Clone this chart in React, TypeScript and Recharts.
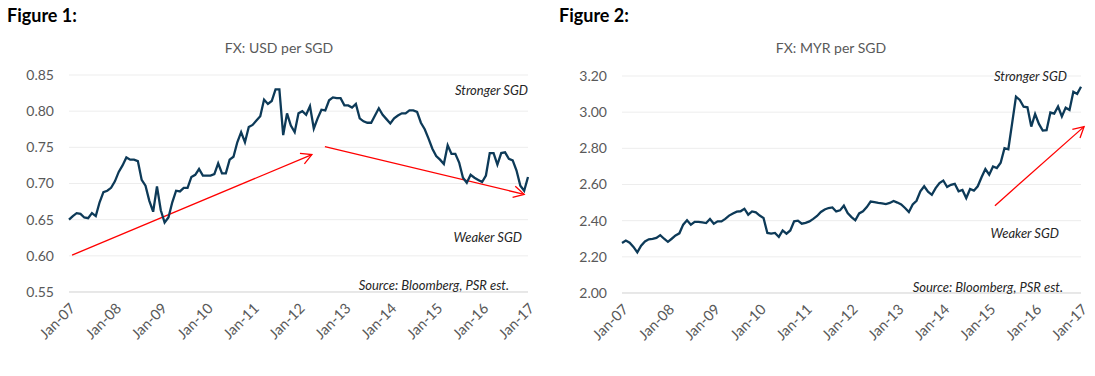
import { CartesianGrid, Line, LineChart, ReferenceLine, XAxis, YAxis } from "recharts"

// monthly, Jan-07 .. Jan-17 (121 points)
const usdPerSgd = [
  0.650, 0.655, 0.659, 0.658, 0.653, 0.652, 0.659, 0.655, 0.674, 0.688, 0.690, 0.694,
  0.703, 0.716, 0.725, 0.736, 0.733, 0.733, 0.731, 0.705, 0.697, 0.676, 0.661, 0.696,
  0.663, 0.646, 0.653, 0.674, 0.690, 0.689, 0.694, 0.694, 0.709, 0.712, 0.720, 0.711,
  0.711, 0.711, 0.713, 0.728, 0.714, 0.714, 0.733, 0.737, 0.757, 0.771, 0.757, 0.778,
  0.781, 0.787, 0.793, 0.816, 0.810, 0.814, 0.830, 0.830, 0.767, 0.797, 0.780, 0.771,
  0.797, 0.800, 0.795, 0.807, 0.776, 0.790, 0.802, 0.801, 0.815, 0.819, 0.818, 0.818,
  0.808, 0.808, 0.805, 0.810, 0.790, 0.786, 0.784, 0.784, 0.794, 0.804, 0.795, 0.789,
  0.783, 0.790, 0.794, 0.797, 0.797, 0.801, 0.801, 0.799, 0.784, 0.775, 0.762, 0.748,
  0.738, 0.733, 0.727, 0.753, 0.741, 0.741, 0.729, 0.708, 0.701, 0.712, 0.708, 0.705,
  0.702, 0.711, 0.742, 0.742, 0.726, 0.742, 0.743, 0.734, 0.732, 0.718, 0.697, 0.690,
  0.709,
]

const myrPerSgd = [
  2.277, 2.290, 2.278, 2.255, 2.225, 2.262, 2.285, 2.297, 2.299, 2.305, 2.320, 2.300,
  2.283, 2.300, 2.318, 2.330, 2.378, 2.402, 2.378, 2.393, 2.393, 2.390, 2.387, 2.409,
  2.383, 2.396, 2.396, 2.410, 2.428, 2.440, 2.450, 2.452, 2.466, 2.433, 2.451, 2.446,
  2.428, 2.415, 2.332, 2.328, 2.332, 2.310, 2.346, 2.328, 2.346, 2.396, 2.400, 2.383,
  2.388, 2.396, 2.410, 2.426, 2.448, 2.462, 2.470, 2.473, 2.451, 2.457, 2.483, 2.442,
  2.420, 2.402, 2.440, 2.452, 2.475, 2.506, 2.502, 2.498, 2.496, 2.492, 2.498, 2.509,
  2.500, 2.490, 2.470, 2.448, 2.490, 2.510, 2.562, 2.590, 2.560, 2.543, 2.580, 2.608,
  2.622, 2.586, 2.598, 2.604, 2.562, 2.570, 2.525, 2.575, 2.566, 2.590, 2.640, 2.685,
  2.654, 2.700, 2.691, 2.720, 2.801, 2.795, 2.939, 3.086, 3.068, 3.030, 3.027, 2.920,
  2.990, 2.935, 2.898, 2.900, 2.998, 2.992, 3.031, 2.976, 3.025, 3.012, 3.113, 3.101,
  3.141,
]

const yearLabels = ["Jan-07", "Jan-08", "Jan-09", "Jan-10", "Jan-11", "Jan-12", "Jan-13", "Jan-14", "Jan-15", "Jan-16", "Jan-17"]
const yearTicks = [0, 12, 24, 36, 48, 60, 72, 84, 96, 108, 120]

const usdTicks = [0.55, 0.6, 0.65, 0.7, 0.75, 0.8, 0.85]
const myrTicks = [2.0, 2.2, 2.4, 2.6, 2.8, 3.0, 3.2]

// trend arrows: [month, value] -> [month, value]
const usdArrows = [
  [[0.8, 0.601], [63.5, 0.740]],
  [[66.9, 0.751], [119, 0.685]],
]
const myrArrows = [[[97.5, 2.483], [120.8, 2.92]]]

const usdRows = usdPerSgd.map((v, m) => ({ m, v }))
const myrRows = myrPerSgd.map((v, m) => ({ m, v }))

const FONT = "Lato, 'Open Sans', sans-serif"
const GREY = "#595959"

const Arrow = (props: any) => {
  const { x1, y1, x2, y2 } = props
  const a = Math.atan2(y2 - y1, x2 - x1)
  const len = 12
  const s = 0.5
  const pA = `${x2 - len * Math.cos(a - s)},${y2 - len * Math.sin(a - s)}`
  const pB = `${x2 - len * Math.cos(a + s)},${y2 - len * Math.sin(a + s)}`
  return (
    <g>
      <line x1={x1} y1={y1} x2={x2} y2={y2} stroke="#ff0000" strokeWidth={1.3} />
      <polyline points={`${pA} ${x2},${y2} ${pB}`} fill="none" stroke="#ff0000" strokeWidth={1.3} />
    </g>
  )
}

type PanelProps = {
  rows: { m: number; v: number }[]
  domain: [number, number]
  ticks: number[]
  arrows: number[][][]
  width: number
  top: number
  right: number
  bottom: number
}

function Panel({ rows, domain, ticks, arrows, width, top, right, bottom }: PanelProps) {
  return (
    <LineChart width={width} height={376} data={rows} margin={{ top, right, bottom, left: 0 }}>
      <CartesianGrid vertical={false} stroke="#ededed" />
      <XAxis
        type="number"
        dataKey="m"
        domain={[0, 120]}
        ticks={yearTicks}
        interval={0}
        tickFormatter={(v) => yearLabels[Math.round(v / 12)]}
        angle={-45}
        textAnchor="end"
        height={60}
        tickLine={false}
        tickSize={0}
        tickMargin={10}
        axisLine={{ stroke: "#d9d9d9" }}
        tick={{ fill: GREY, fontSize: 14.5, fontFamily: FONT }}
      />
      <YAxis
        type="number"
        domain={domain}
        ticks={ticks}
        width={69}
        tickFormatter={(v) => v.toFixed(2)}
        axisLine={false}
        tickLine={false}
        tickSize={0}
        tickMargin={15}
        tick={{ fill: GREY, fontSize: 14, fontFamily: FONT }}
      />
      {arrows.map((seg, i) => (
        <ReferenceLine
          key={i}
          segment={[{ x: seg[0][0], y: seg[0][1] }, { x: seg[1][0], y: seg[1][1] }]}
          ifOverflow="visible"
          shape={Arrow}
        />
      ))}
      <Line
        type="linear"
        dataKey="v"
        stroke="#0d3a58"
        strokeWidth={2.3}
        dot={false}
        isAnimationActive={false}
      />
    </LineChart>
  )
}

const abs = (left: number, top: number, extra: any = {}) => ({
  position: "absolute" as const,
  left,
  top,
  fontFamily: FONT,
  whiteSpace: "nowrap" as const,
  ...extra,
})

export default function App() {
  const note = { fontSize: 13, fontStyle: "italic", color: "#262626", lineHeight: "16px", textAlign: "right" }
  const title = { fontSize: 14, color: GREY, lineHeight: "16px", transform: "translateX(-50%)" }
  const fig = { fontSize: 18, fontWeight: 700, color: "#000", lineHeight: "22px" }
  return (
    <div style={{ position: "absolute", left: 0, top: 0, width: 1095, height: 376, background: "#fff" }}>
      <div style={{ position: "absolute", left: 0, top: 0 }}>
        <Panel rows={usdRows} domain={[0.55, 0.85]} ticks={usdTicks} arrows={usdArrows} width={548} top={75} right={20} bottom={24} />
      </div>
      <div style={{ position: "absolute", left: 553, top: 0 }}>
        <Panel rows={myrRows} domain={[2.0, 3.2]} ticks={myrTicks} arrows={myrArrows} width={542} top={76} right={14} bottom={23} />
      </div>

      <div style={abs(7, 4, fig)}>Figure 1:</div>
      <div style={abs(559, 4, fig)}>Figure 2:</div>

      <div style={abs(279, 40, title)}>FX: USD per SGD</div>
      <div style={abs(831, 40, title)}>FX: MYR per SGD</div>

      <div style={abs(400, 82, { ...note, width: 128 })}>Stronger SGD</div>
      <div style={abs(400, 229, { ...note, width: 122 })}>Weaker SGD</div>
      <div style={abs(300, 277, { ...note, width: 209 })}>Source: Bloomberg, PSR est.</div>

      <div style={abs(940, 68, { ...note, width: 127 })}>Stronger SGD</div>
      <div style={abs(930, 225, { ...note, width: 129 })}>Weaker SGD</div>
      <div style={abs(860, 279, { ...note, width: 203 })}>Source: Bloomberg, PSR est.</div>
    </div>
  )
}
